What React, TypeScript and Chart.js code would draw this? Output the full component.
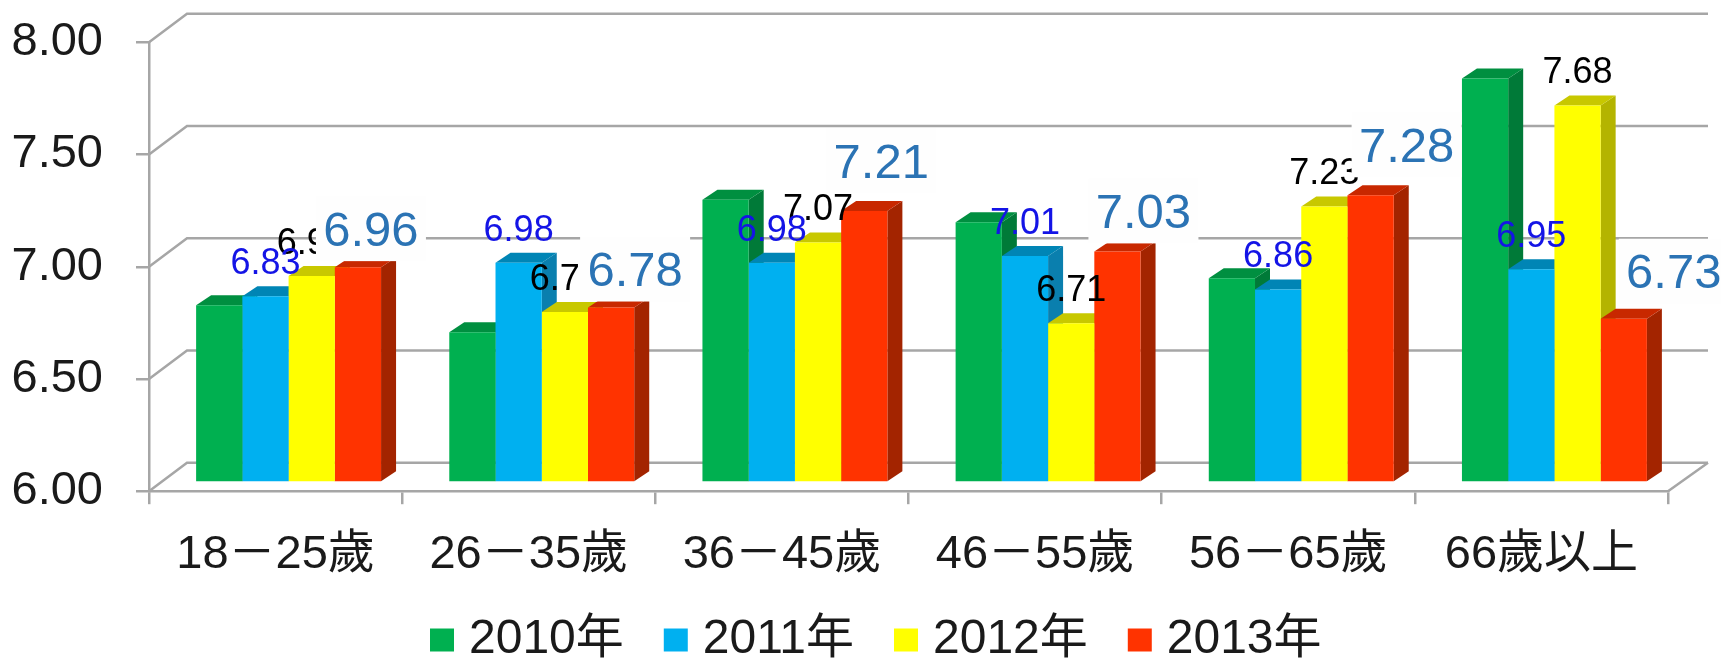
import React, { useEffect, useRef } from "react";
import { Chart, registerables } from "chart.js";

Chart.register(...registerables);

const categories = ["18－25歲", "26－35歲", "36－45歲", "46－55歲", "56－65歲", "66歲以上"];
const years = ["2010年", "2011年", "2012年", "2013年"];
const values2010 = [6.79, 6.67, 7.26, 7.16, 6.91, 7.8];
const values2011 = [6.83, 6.98, 6.98, 7.01, 6.86, 6.95];
const values2012 = [6.92, 6.76, 7.07, 6.71, 7.23, 7.68];
const values2013 = [6.96, 6.78, 7.21, 7.03, 7.28, 6.73];

const frontColors = ["#00B050", "#00B0F0", "#FFFF00", "#FF3300"];
const topColors = ["#008F40", "#0085B5", "#C8C800", "#C82800"];
const sideColors = ["#007A38", "#0A7FAE", "#B4B400", "#A32400"];

// hand-placed 2013 call-outs, relative to the bar's top centre
const callDx = [13, 24, 17, 26, 36, 50];
const callDy = [38, 38, 50, 40, 50, 47];

const FONT = '"Liberation Sans", "Noto Sans CJK TC", sans-serif';
const GRID = "#A6A6A6";
const WALL_DX = 38;
const WALL_DY = 28.5;
const BAR_DX = 13;
const BAR_DY = 8.6;
const CAP_DX = 15;
const CAP_DY = 10;

function poly(ctx: CanvasRenderingContext2D, pts: number[][], color: string) {
  ctx.fillStyle = color;
  ctx.beginPath();
  pts.forEach((p, i) => (i ? ctx.lineTo(p[0], p[1]) : ctx.moveTo(p[0], p[1])));
  ctx.closePath();
  ctx.fill();
}

const threeD = {
  id: "threeD",
  afterLayout(chart: any) {
    const l = chart.legend;
    if (l) {
      const pad = l.options.labels.padding;
      l.left = 439 - pad;
      l.right = 1721;
      l.top = 640 - 24 - pad;
    }
    // the tick labels are clipped to the scale's box: let it run to the canvas edge
    chart.scales.x.bottom = chart.height;
  },
  beforeDatasetsDraw(chart: any) {
    const ctx: CanvasRenderingContext2D = chart.ctx;
    const { y } = chart.scales;
    const left = chart.chartArea.left;
    const right = chart.chartArea.right;
    ctx.save();
    ctx.strokeStyle = GRID;
    ctx.lineWidth = 2.5;
    y.ticks.forEach((t: any) => {
      const py = y.getPixelForValue(t.value);
      ctx.beginPath();
      ctx.moveTo(left, py);
      ctx.lineTo(left + WALL_DX, py - WALL_DY);
      ctx.lineTo(right + WALL_DX + 2, py - WALL_DY);
      ctx.stroke();
    });
    const by = y.getPixelForValue(y.min);
    ctx.beginPath();
    ctx.moveTo(right, by);
    ctx.lineTo(right + WALL_DX + 2, by - WALL_DY);
    ctx.stroke();
    ctx.restore();

    ctx.save();
    ctx.translate(BAR_DX, -BAR_DY);
    for (let j = 0; j < categories.length; j++) {
      chart.data.datasets.forEach((_: any, i: number) => {
        const bar = chart.getDatasetMeta(i).data[j];
        const l = bar.x - bar.width / 2;
        const r = bar.x + bar.width / 2;
        poly(ctx, [[r, bar.y], [r + CAP_DX, bar.y - CAP_DY], [r + CAP_DX, bar.base - CAP_DY], [r, bar.base]], sideColors[i]);
        poly(ctx, [[l, bar.y], [l + CAP_DX, bar.y - CAP_DY], [r + CAP_DX, bar.y - CAP_DY], [r, bar.y]], topColors[i]);
      });
    }
    // the library's front faces follow, in the same shifted plane
  },
  afterDatasetsDraw(chart: any) {
    const ctx: CanvasRenderingContext2D = chart.ctx;
    ctx.restore();
    ctx.save();
    ctx.textAlign = "center";
    ctx.textBaseline = "middle";
    const topOf = (i: number, j: number) => {
      const bar = chart.getDatasetMeta(i).data[j];
      return { cx: bar.x + BAR_DX, ty: bar.y - BAR_DY };
    };
    ctx.font = `36px ${FONT}`;
    ctx.fillStyle = "#000000";
    values2012.forEach((v, j) => {
      const { cx, ty } = topOf(2, j);
      ctx.fillText(v.toFixed(2), cx, ty - 32);
    });
    ctx.fillStyle = "#1414E6";
    values2011.forEach((v, j) => {
      const { cx, ty } = topOf(1, j);
      ctx.fillText(v.toFixed(2), cx, ty - 32);
    });
    values2013.forEach((v, j) => {
      const { cx, ty } = topOf(3, j);
      const lx = cx + callDx[j];
      const ly = ty - callDy[j];
      ctx.fillStyle = "#FEFEFE";
      ctx.fillRect(lx - 55, ly - 33, 110, 65);
      ctx.font = `49px ${FONT}`;
      ctx.fillStyle = "#2B73B4";
      ctx.fillText(v.toFixed(2), lx, ly + 3);
    });
    ctx.restore();
  },
};

export default function App() {
  const ref = useRef<HTMLCanvasElement>(null);
  useEffect(() => {
    const chart = new Chart(ref.current!, {
      type: "bar",
      data: {
        labels: categories,
        datasets: [values2010, values2011, values2012, values2013].map((data, i) => ({
          label: years[i],
          data,
          base: 6,
          backgroundColor: frontColors[i],
          borderWidth: 0,
          categoryPercentage: 0.7305,
          barPercentage: 1,
          clip: false as any,
        })),
      },
      options: {
        responsive: false,
        animation: false,
        events: [],
        layout: { autoPadding: false, padding: { left: 0, right: 53, top: 42.3, bottom: 0 } },
        scales: {
          x: {
            afterFit: (s: any) => {
              s.height = 64.8;
              s.paddingLeft = 0;
              s.paddingRight = 0;
            },
            grid: { drawOnChartArea: false, tickLength: 13, color: GRID, lineWidth: 2.5 },
            border: { color: GRID, width: 2.5 },
            ticks: { color: "#1A1A1A", font: { size: 47, family: FONT }, padding: 23, maxRotation: 0, autoSkip: false },
          },
          y: {
            min: 6,
            max: 8,
            afterFit: (s: any) => {
              s.width = 149;
              s.paddingTop = 0;
              s.paddingBottom = 0;
            },
            grid: { drawOnChartArea: false, tickLength: 13, color: GRID, lineWidth: 2.5 },
            border: { color: GRID, width: 2.5 },
            ticks: {
              stepSize: 0.5,
              color: "#1A1A1A",
              font: { size: 47, family: FONT },
              padding: 33,
              callback: (v: any) => Number(v).toFixed(2),
            },
          },
        },
        plugins: {
          tooltip: { enabled: false },
          legend: {
            position: "bottom",
            align: "start",
            labels: {
              boxWidth: 6,
              boxHeight: 5,
              padding: 49,
              color: "#1A1A1A",
              font: { size: 48, family: FONT },
              generateLabels: (c: any) =>
                (Chart.defaults.plugins.legend.labels as any).generateLabels(c).map((l: any) => ({
                  ...l,
                  lineWidth: 18,
                  strokeStyle: l.fillStyle,
                })),
            },
          },
        },
      },
      plugins: [threeD],
    } as any);
    return () => chart.destroy();
  }, []);
  return (
    <div style={{ position: "fixed", left: 0, top: 0, width: 1721, height: 663, background: "#fff" }}>
      <canvas ref={ref} width={1721} height={663} style={{ display: "block" }} />
    </div>
  );
}
